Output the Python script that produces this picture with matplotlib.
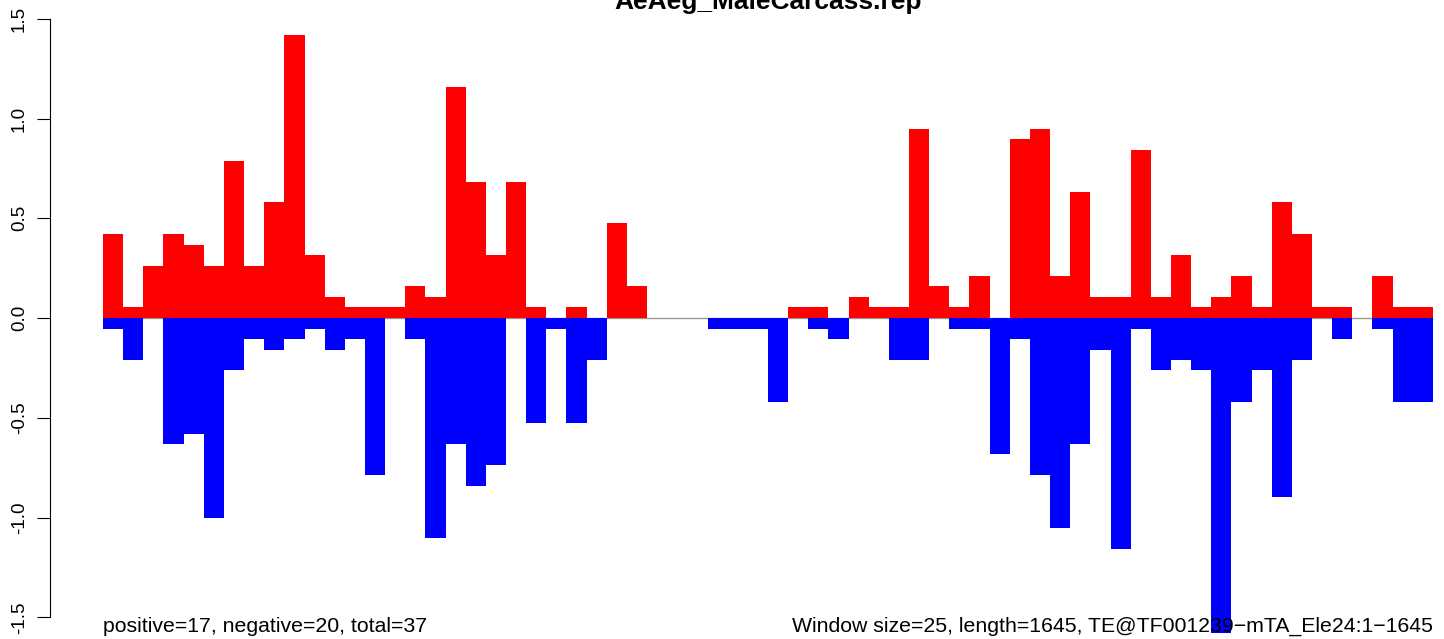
import numpy as np
import matplotlib
matplotlib.use("Agg")
import matplotlib.pyplot as plt

plt.rcParams['font.family'] = ['Liberation Sans', 'DejaVu Sans']

title = "AeAeg_MaleCarcass.rep"
left_note = "positive=17, negative=20, total=37"
right_note = "Window size=25, length=1645, TE@TF001239\u2212mTA_Ele24:1\u22121645"

# one value per 25bp window (66 windows)
pos = [0.421, 0.053, 0.263, 0.421, 0.368, 0.263, 0.789, 0.263, 0.579, 1.421,
       0.316, 0.105, 0.053, 0.053, 0.053, 0.158, 0.105, 1.158, 0.684, 0.316,
       0.684, 0.053, 0.0, 0.053, 0.0, 0.474, 0.158, 0.0, 0.0, 0.0,
       0.0, 0.0, 0.0, 0.0, 0.053, 0.053, 0.0, 0.105, 0.053, 0.053,
       0.947, 0.158, 0.053, 0.211, 0.0, 0.895, 0.947, 0.211, 0.632, 0.105,
       0.105, 0.842, 0.105, 0.316, 0.053, 0.105, 0.211, 0.053, 0.579, 0.421,
       0.053, 0.053, 0.0, 0.211, 0.053, 0.053]
neg = [-0.053, -0.211, 0.0, -0.632, -0.579, -1.0, -0.263, -0.105, -0.158, -0.105,
       -0.053, -0.158, -0.105, -0.789, 0.0, -0.105, -1.105, -0.632, -0.842, -0.737,
       0.0, -0.526, -0.053, -0.526, -0.211, 0.0, 0.0, 0.0, 0.0, 0.0,
       -0.053, -0.053, -0.053, -0.421, 0.0, -0.053, -0.105, 0.0, 0.0, -0.211,
       -0.211, 0.0, -0.053, -0.053, -0.684, -0.105, -0.789, -1.053, -0.632, -0.158,
       -1.158, -0.053, -0.263, -0.211, -0.263, -1.579, -0.421, -0.263, -0.895, -0.211,
       0.0, -0.105, 0.0, -0.053, -0.421, -0.421]
yticks = [-1.5, -1.0, -0.5, 0.0, 0.5, 1.0, 1.5]

W, H = 1444, 639
fig = plt.figure(figsize=(W / 100, H / 100), dpi=100)
ax = fig.add_axes([50 / W, 0, 1 - 50 / W, 1])

x = np.arange(len(pos))
bw = 20.15   # px per window
ax.hlines(0, 0, len(pos), color='#999999', lw=1, zorder=0)
ax.bar(x, pos, width=1, align='edge', color='red', lw=0, zorder=1)
ax.bar(x, neg, width=1, align='edge', color='blue', lw=0, zorder=1)

ax.set_xlim((50 - 103) / bw, (W - 103) / bw)
ax.set_ylim((318 - H) / 199.5, 318 / 199.5)

for s in ['top', 'right', 'bottom']:
    ax.spines[s].set_visible(False)
ax.spines['left'].set_bounds(-1.5, 1.5)
ax.spines['left'].set_linewidth(0.8)
ax.set_xticks([])
ax.set_yticks(yticks)
ax.set_yticklabels([f"{v:.1f}" for v in yticks], rotation=90, va='center', fontsize=13.5)
ax.tick_params(axis='y', length=9.4, width=0.8, pad=6.5)

fig.text(768 / W, 1 - 9 / H, title, ha='center', va='baseline',
         fontweight='bold', fontsize=19)
ybase = (318 - 632) / 199.5
ax.text(0, ybase, left_note, ha='left', va='baseline', fontsize=15.3, clip_on=False)
ax.text(len(pos), ybase, right_note, ha='right', va='baseline', fontsize=15.3, clip_on=False)

fig.savefig("out.png", dpi=100)
